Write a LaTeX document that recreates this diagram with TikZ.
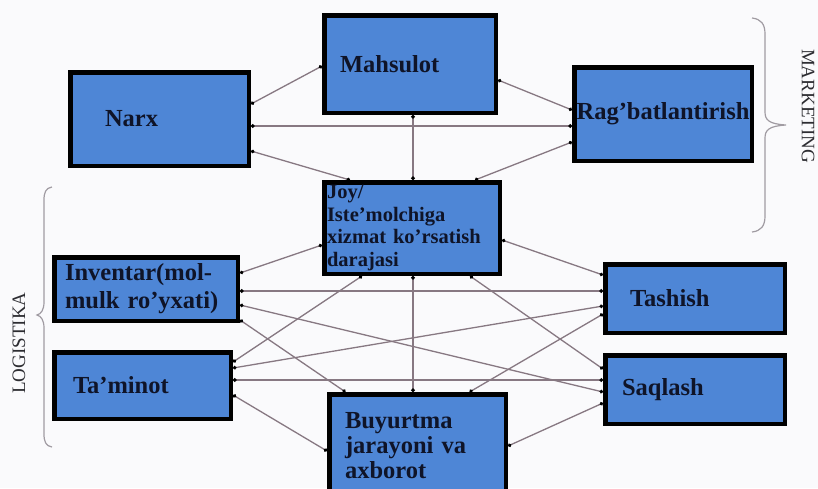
\documentclass[tikz,border=0pt]{standalone}
\usepackage{fontspec}
\setmainfont{Liberation Serif}
\usetikzlibrary{arrows.meta,calc}

\definecolor{boxblue}{RGB}{78,134,214}
\definecolor{boxtext}{RGB}{15,20,40}
\definecolor{linkgray}{RGB}{135,120,130}
\definecolor{bracegray}{RGB}{160,155,162}
\definecolor{labelgray}{RGB}{45,45,50}
\definecolor{paper}{RGB}{250,250,252}

\tikzset{
  blok/.style={draw=black, line width=4.5pt, fill=boxblue, text=boxtext,
    font=\bfseries\fontsize{24.5}{28}\selectfont, align=left, inner sep=0pt},
  bog/.style={draw=linkgray, line width=1.3pt,
    {Circle[length=3.5pt,color=black]}-{Circle[length=3.5pt,color=black]}},
  qavs/.style={draw=bracegray, line width=1.2pt},
  yorliq/.style={font=\fontsize{19}{19}\selectfont, text=labelgray}
}

\begin{document}
\begin{tikzpicture}[x=1pt,y=-1pt]
\useasboundingbox (0,0) rectangle (818,488);
\clip (0,0) rectangle (818,488);
\fill[paper] (0,0) rectangle (818,488);

% marketing
\node[blok, minimum width=178.5pt, minimum height=93.5pt, text width=109pt] (narx) at (159.5,119) {Narx};
\node[blok, minimum width=171.5pt, minimum height=97.5pt, text width=140pt] (mahsulot) at (410,64) {Mahsulot};
\node[blok, minimum width=177.5pt, minimum height=93.5pt] (rag) at (663,114) {Rag'batlantirish};
\node[blok, minimum width=175.5pt, minimum height=91.5pt, text width=170pt,
  font=\bfseries\fontsize{20.5}{22.7}\selectfont] (joy) at (412,228)
  {Joy/\\Iste'molchiga\\xizmat ko'rsatish\\darajasi};

% logistika
\node[blok, minimum width=183.5pt, minimum height=63.5pt, text width=162pt] (inventar) at (146,289) {Inventar(mol-\\mulk ro'yxati)};
\node[blok, minimum width=176.5pt, minimum height=66.5pt, text width=139pt] (taminot) at (142.5,385.5) {Ta'minot};
\node[blok, minimum width=176.5pt, minimum height=103.5pt, text width=145pt,
  font=\bfseries\fontsize{24.5}{25}\selectfont] (buyurtma) at (417.5,446)
  {Buyurtma\\jarayoni va\\axborot};
\node[blok, minimum width=179.5pt, minimum height=68.5pt, text width=130pt] (tashish) at (695,298.5) {Tashish};
\node[blok, minimum width=179.5pt, minimum height=68.5pt, text width=146pt] (saqlash) at (695,389.5) {Saqlash};

% bog'lanishlar
\draw[bog] ($(narx.east)+(0,-15)$) -- ($(mahsulot.west)+(0,2)$);
\draw[bog] ($(narx.east)+(0,7)$) -- ($(rag.west)+(0,12)$);
\draw[bog] ($(narx.east)+(0,32)$) -- ($(joy.north)+(-62,0)$);
\draw[bog] ($(mahsulot.east)+(0,16)$) -- ($(rag.west)+(0,-4)$);
\draw[bog] ($(mahsulot.south)+(3,0)$) -- ($(joy.north)+(1,0)$);
\draw[bog] ($(joy.north)+(63,0)$) -- ($(rag.west)+(0,28)$);
\draw[bog] ($(inventar.east)+(0,-16)$) -- ($(joy.west)+(0,17)$);
\draw[bog] ($(inventar.east)+(0,2)$) -- ($(tashish.west)+(0,-7.5)$);
\draw[bog] ($(inventar.east)+(0,16)$) -- ($(saqlash.west)+(0,2.5)$);
\draw[bog] ($(inventar.east)+(0,31)$) -- ($(buyurtma.north)+(-72,0)$);
\draw[bog] ($(taminot.east)+(0,-23.5)$) -- ($(joy.south)+(-50,0)$);
\draw[bog] ($(taminot.east)+(0,-17.5)$) -- ($(tashish.west)+(0,7.5)$);
\draw[bog] ($(taminot.east)+(0,-5.5)$) -- ($(saqlash.west)+(0,-9.5)$);
\draw[bog] ($(taminot.east)+(0,9.5)$) -- ($(buyurtma.west)+(0,5)$);
\draw[bog] ($(joy.south)+(1,0)$) -- ($(buyurtma.north)+(-4.5,0)$);
\draw[bog] ($(joy.east)+(0,12)$) -- ($(tashish.west)+(0,-23.5)$);
\draw[bog] ($(joy.south)+(58,0)$) -- ($(saqlash.west)+(0,-20.5)$);
\draw[bog] ($(buyurtma.north)+(52,0)$) -- ($(tashish.west)+(0,15.5)$);
\draw[bog] (buyurtma.east) -- ($(saqlash.west)+(0,13.5)$);

% qavslar
\draw[qavs] (752,18) .. controls (761,19) and (765,24) .. (765,34) -- (765,112)
  .. controls (765,120) and (769,124) .. (786,125)
  .. controls (769,126) and (765,130) .. (765,138) -- (765,216)
  .. controls (765,226) and (761,231) .. (752,232);
\node[yorliq, rotate=-90] (marketing) at (808,106) {MARKETING};
\draw[qavs] (52,187) .. controls (46,188) and (44,192) .. (44,200) -- (44,302)
  .. controls (44,310) and (41,314) .. (37,315)
  .. controls (41,316) and (44,320) .. (44,328) -- (44,434)
  .. controls (44,442) and (46,446) .. (52,447);
\node[yorliq, rotate=90] (logistika) at (19,343) {LOGISTIKA};
\end{tikzpicture}
\end{document}
